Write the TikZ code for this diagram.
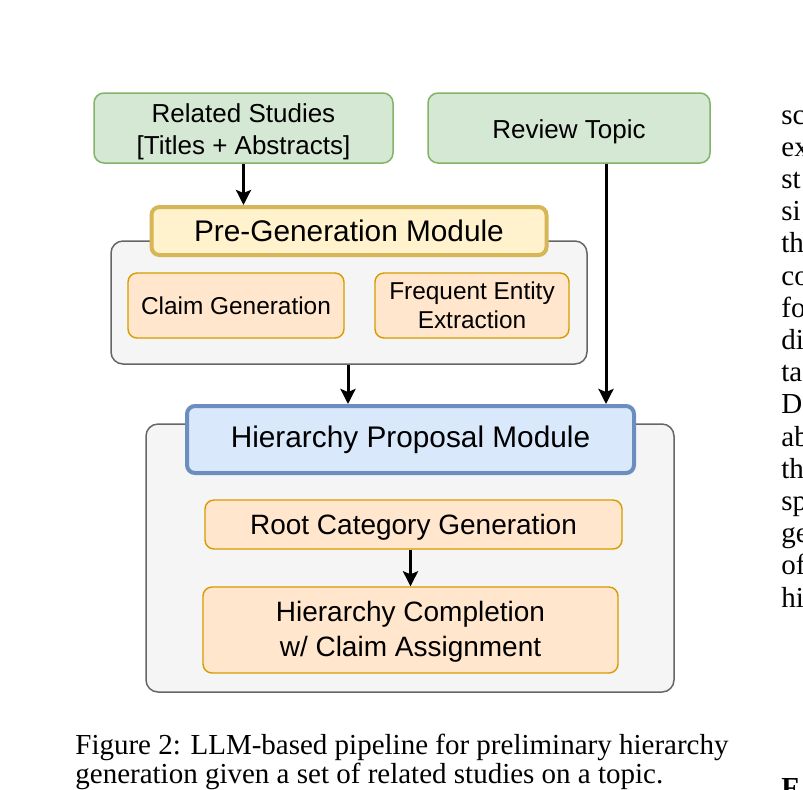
\documentclass[tikz,border=0pt]{standalone}
\usepackage{fontspec}
\setmainfont{Liberation Serif}
\setsansfont{Liberation Sans}
\usetikzlibrary{arrows.meta,calc}
\definecolor{gfill}{HTML}{D5E8D4}
\definecolor{gline}{HTML}{82B366}
\definecolor{yfill}{HTML}{FFF2CC}
\definecolor{yline}{HTML}{D6B656}
\definecolor{ofill}{HTML}{FFE6CC}
\definecolor{oline}{HTML}{D79B00}
\definecolor{bfill}{HTML}{DAE8FC}
\definecolor{bline}{HTML}{6C8EBF}
\definecolor{cfill}{HTML}{F5F5F5}
\definecolor{cline}{HTML}{666666}
\tikzset{
  box/.style={draw, align=center, inner sep=0pt, font=\sffamily},
  greenbox/.style={box, fill=gfill, draw=gline, line width=0.75pt, rounded corners=5pt},
  greentext/.style={inner sep=0pt, align=center, font=\sffamily\fontsize{13}{16}\selectfont},
  modbox/.style={box, line width=2pt, rounded corners=4pt},
  subbox/.style={box, fill=ofill, draw=oline, line width=0.7pt, rounded corners=4.5pt},
  subtext/.style={inner sep=0pt, align=center, font=\sffamily\fontsize{14}{17.5}\selectfont},
  container/.style={draw=cline, fill=cfill, line width=0.75pt, rounded corners=6pt, inner sep=0pt},
  flow/.style={-{Stealth[length=7.5pt,width=7.5pt,inset=1.5pt]}, line width=1.5pt, black},
  bodytext/.style={inner sep=0pt, font=\fontsize{14.5}{16}\selectfont},
}
\begin{document}
\begin{tikzpicture}[x=0.5pt,y=-0.5pt]
\useasboundingbox (0,0) rectangle (803,789);
% containers
\node[container, minimum width=238pt, minimum height=61.5pt] (g1) at (349,302.5) {};
\node[container, minimum width=264pt, minimum height=134pt] (g2) at (410,558) {};
% input boxes
\node[greenbox, minimum width=149.5pt, minimum height=35pt] (rel) at (243.5,128) {};
\node[greentext, yshift=-2pt] (reltext) at (rel.center) {Related Studies\\{[}Titles + Abstracts{]}};
\node[greenbox, minimum width=141pt, minimum height=35pt] (rev) at (569,128) {};
\node[greentext, yshift=-2pt] (revtext) at (rev.center) {Review Topic};
% pre-generation module
\node[modbox, fill=yfill, draw=yline, minimum width=197.5pt, minimum height=24pt,
  font=\sffamily\fontsize{14.9}{17}\selectfont] (pre) at (349,231) {Pre-Generation Module};
\node[subbox, minimum width=108pt, minimum height=32.5pt,
  font=\sffamily\fontsize{12.2}{14.5}\selectfont] (claim) at (236,305.5) {Claim Generation};
\node[subbox, minimum width=97pt, minimum height=32.5pt,
  font=\sffamily\fontsize{12.2}{14.5}\selectfont] (freq) at (472,305.5) {Frequent Entity\\Extraction};
% hierarchy proposal module
\node[modbox, fill=bfill, draw=bline, minimum width=223.5pt, minimum height=33.5pt,
  font=\sffamily\fontsize{14.9}{17}\selectfont] (hpm) at (410.5,439.5) {Hierarchy Proposal Module};
\node[subbox, minimum width=208.5pt, minimum height=24.5pt] (root) at (413.5,524.5) {};
\node[subtext, yshift=-1.5pt] (roottext) at (root.center) {Root Category Generation};
\node[subbox, minimum width=207.5pt, minimum height=43pt] (hc) at (410.5,630) {};
\node[subtext, yshift=-1pt] (hctext) at (hc.center) {Hierarchy Completion\\w/ Claim Assignment};
% connectors
\draw[flow] (rel.south) -- (rel.south |- pre.north);
\draw[flow] ([xshift=-0.5pt]g1.south) -- ([xshift=-0.5pt]g1.south |- hpm.north);
\draw[flow] ([xshift=18.5pt]rev.south) -- ([xshift=18.5pt]rev.south |- hpm.north);
\draw[flow] (root.south -| hc.north) -- (hc.north);
% caption
\node[bodytext, anchor=base west] (cap1) at (75,754) {Figure 2: LLM-based pipeline for preliminary hierarchy};
\node[bodytext, anchor=base west] (cap2) at (75,783) {generation given a set of related studies on a topic.};
% cut-off text column on the right
\foreach \t [count=\i] in {sc,ex,st,si,th,co,fo,di,ta,D,ab,th,sp,ge,of,hi}
  \node[bodytext, anchor=base west] (col\i) at (781,{124+32.2*(\i-1)}) {\t};
\node[bodytext, anchor=base west] (colF) at (781,797) {\textbf{F}};
\end{tikzpicture}
\end{document}
